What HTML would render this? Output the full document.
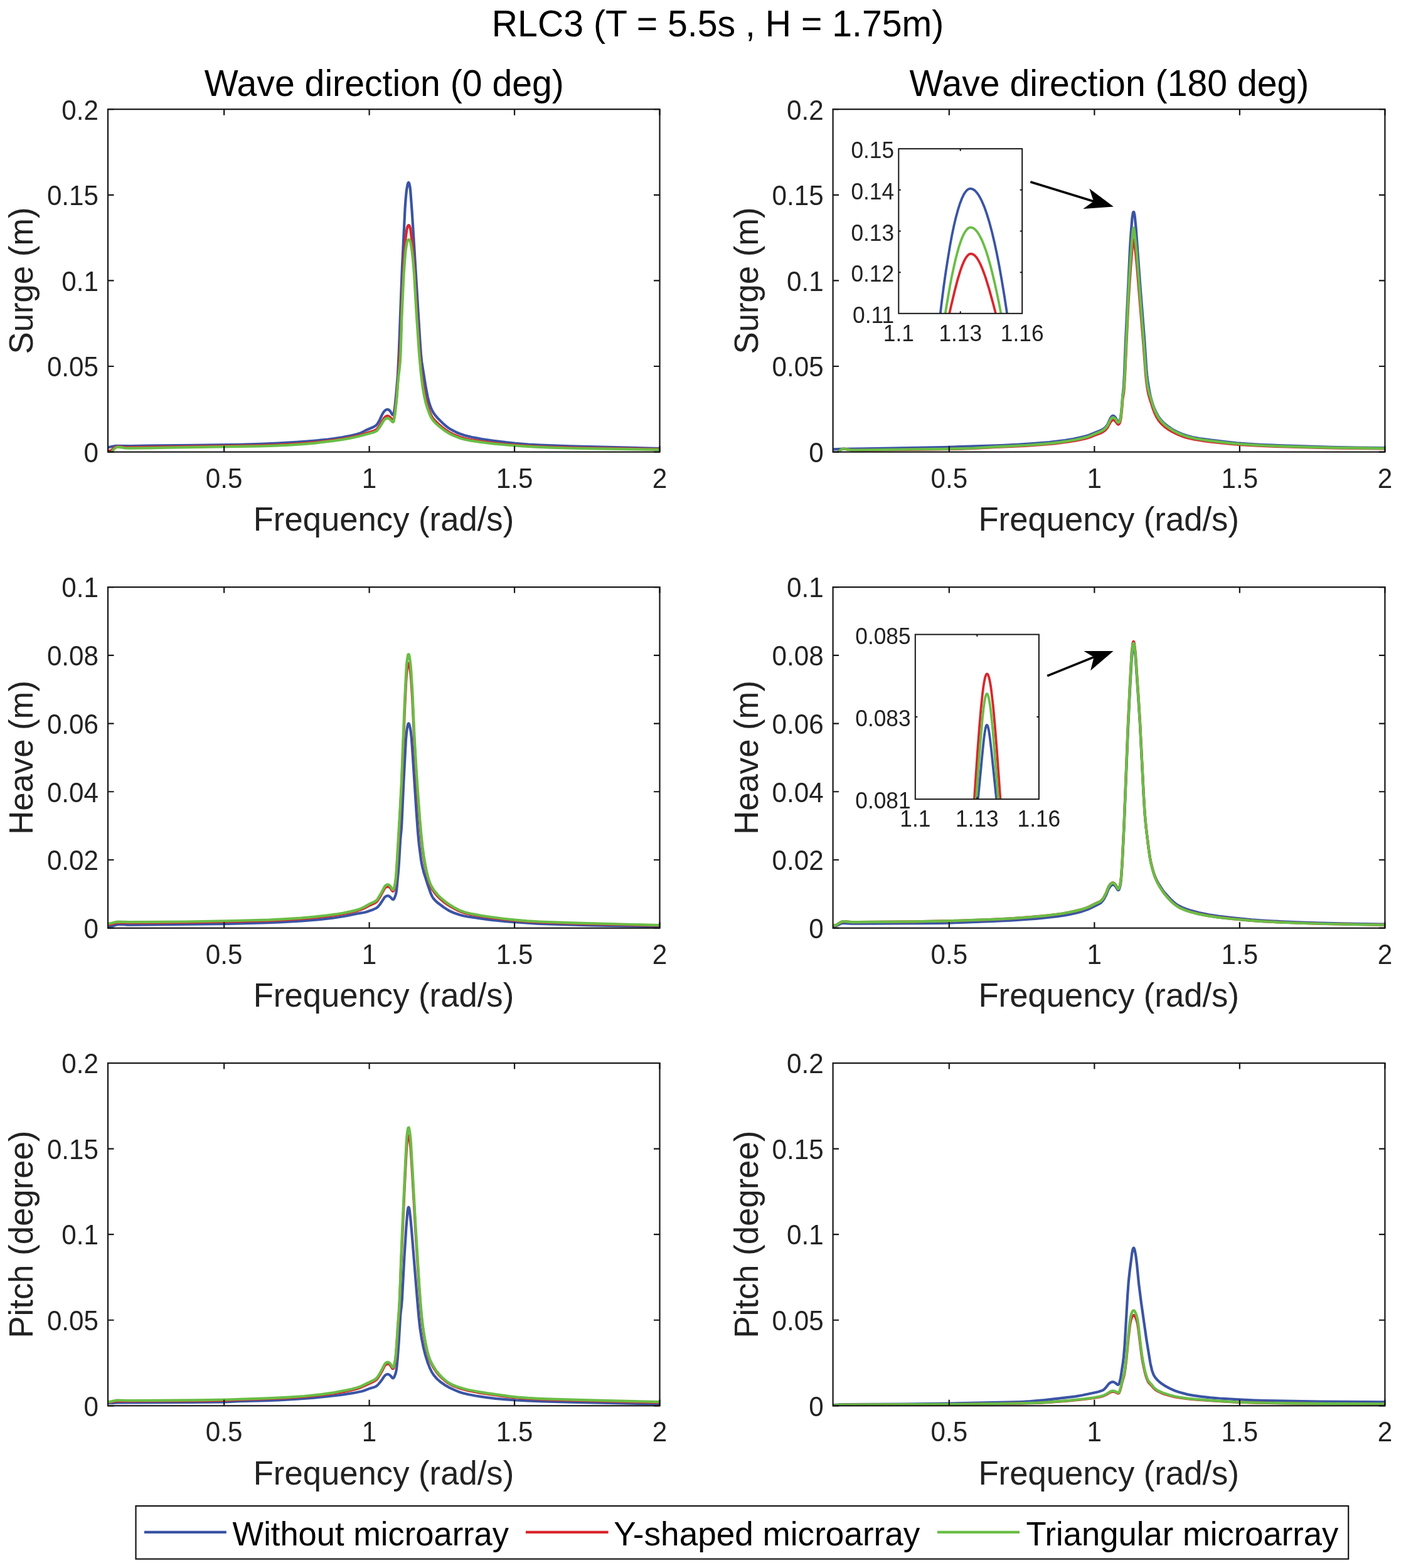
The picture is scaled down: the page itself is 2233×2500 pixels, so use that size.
<!DOCTYPE html>
<html><head><meta charset="utf-8"><title>RLC3 response</title>
<style>html,body{margin:0;padding:0;background:#fff;} svg{display:block;}</style>
</head><body>
<svg xmlns="http://www.w3.org/2000/svg" width="2233" height="2500" viewBox="0 0 2233 2500" font-family="'Liberation Sans', Arial, Helvetica, sans-serif">
<rect x="0" y="0" width="2233" height="2500" fill="#ffffff"/>
<text transform="translate(1144.00,57.70) scale(1.0,1.025)" font-size="57.2" text-anchor="middle" fill="#000">RLC3 (T = 5.5s , H = 1.75m)</text>
<clipPath id="clipTL"><rect x="172.00" y="174.20" width="879.50" height="546.40"/></clipPath>
<path d="M172.6,713.3 L181.7,711.3 L185.3,710.9 L208.1,711.0 L232.1,710.6 L308.5,709.9 L381.3,708.9 L415.3,707.9 L443.3,706.7 L472.4,704.9 L499.5,702.8 L522.6,700.5 L533.3,699.1 L544.8,697.3 L559.3,694.6 L567.9,692.6 L574.4,690.6 L583.2,686.0 L595.4,680.8 L599.1,678.5 L601.5,675.9 L604.4,671.1 L608.6,662.0 L610.9,657.8 L613.1,655.0 L614.3,654.0 L615.7,653.3 L616.8,652.9 L617.9,652.9 L619.0,653.1 L619.9,653.7 L621.1,654.7 L622.4,656.2 L625.1,660.9 L626.1,661.6 L626.7,661.4 L627.3,660.3 L627.9,658.1 L629.4,648.6 L631.6,626.3 L634.0,597.6 L635.7,564.1 L640.7,432.6 L645.6,331.5 L646.8,315.1 L648.0,303.2 L649.7,293.8 L650.5,291.7 L651.1,291.0 L651.7,291.3 L652.2,292.4 L653.3,297.0 L654.0,302.2 L654.7,311.0 L656.7,338.1 L660.3,395.2 L669.3,541.7 L670.8,563.2 L672.2,576.8 L678.7,617.5 L681.6,632.4 L683.9,641.7 L686.7,650.0 L689.5,655.8 L691.4,658.9 L693.5,661.8 L698.7,667.8 L707.0,675.9 L710.9,679.3 L714.4,682.0 L718.1,684.4 L722.7,686.9 L727.3,689.2 L732.1,691.2 L740.8,694.2 L752.1,697.0 L768.2,700.0 L785.2,702.5 L806.2,705.2 L821.3,706.8 L842.5,708.5 L861.6,709.6 L908.4,711.3 L1050.9,715.0" fill="none" stroke="#3a54a4" stroke-width="4.2" stroke-linejoin="round" clip-path="url(#clipTL)"/>
<path d="M172.4,717.9 L174.0,719.0 L175.0,719.2 L176.0,718.9 L177.6,717.9 L180.9,715.0 L182.8,713.6 L185.4,712.5 L188.1,712.1 L192.1,712.3 L200.0,713.3 L208.8,713.3 L294.0,712.2 L410.0,710.4 L436.4,709.6 L460.7,708.4 L485.9,706.7 L508.6,704.6 L524.9,702.7 L535.6,701.3 L548.6,699.2 L562.0,696.7 L573.7,694.0 L582.7,690.9 L595.8,687.0 L599.3,685.2 L600.6,684.3 L602.0,682.8 L604.8,679.0 L609.1,671.3 L612.1,666.6 L614.0,664.6 L615.3,663.8 L616.4,663.4 L618.3,663.2 L620.0,663.9 L622.1,665.7 L625.3,669.6 L626.1,670.0 L626.8,669.9 L627.3,669.2 L627.8,667.8 L629.0,661.1 L631.5,639.7 L632.7,626.1 L637.6,562.3 L638.5,545.1 L640.4,490.4 L642.0,452.8 L643.7,418.9 L645.7,388.9 L646.9,376.2 L648.4,365.9 L649.0,363.2 L649.8,360.9 L650.5,359.7 L651.4,359.2 L652.3,359.7 L652.9,361.0 L653.7,363.2 L654.4,366.3 L656.2,381.0 L657.7,395.8 L660.1,426.9 L665.0,507.9 L668.3,557.0 L670.8,586.1 L672.1,597.6 L673.5,607.9 L676.2,624.1 L678.3,634.7 L681.3,646.3 L684.2,655.0 L687.0,661.7 L689.8,666.5 L693.6,671.1 L698.8,676.1 L707.4,683.3 L711.3,686.1 L715.0,688.5 L718.8,690.7 L723.8,693.1 L733.1,696.8 L740.8,699.1 L750.9,701.2 L769.1,704.0 L785.4,706.1 L806.1,708.3 L825.6,709.9 L850.0,711.5 L871.5,712.5 L923.9,714.0 L1051.0,716.3" fill="none" stroke="#d9272d" stroke-width="4.2" stroke-linejoin="round" clip-path="url(#clipTL)"/>
<path d="M172.3,720.1 L173.2,721.6 L174.2,722.5 L175.0,722.7 L176.0,722.5 L177.7,721.0 L180.8,716.9 L182.8,715.0 L185.5,713.3 L186.6,713.0 L188.2,712.8 L192.1,713.1 L199.6,714.5 L206.8,714.6 L244.8,714.1 L413.9,711.3 L437.1,710.7 L459.5,709.7 L483.0,708.1 L503.0,706.3 L531.6,702.9 L543.4,701.2 L555.6,699.1 L564.7,697.3 L572.5,695.5 L595.6,689.2 L599.3,687.6 L600.6,686.7 L602.0,685.3 L605.2,681.2 L609.3,674.4 L612.3,669.7 L614.3,667.8 L616.4,666.8 L618.3,666.7 L619.7,667.2 L621.9,668.8 L625.3,672.5 L626.1,672.9 L626.8,672.7 L627.5,671.7 L628.1,669.0 L629.4,661.1 L630.4,653.2 L632.4,634.5 L634.4,607.8 L637.4,581.2 L638.0,574.4 L638.8,556.8 L640.4,505.6 L642.1,467.3 L643.7,435.3 L645.4,411.8 L646.6,399.4 L648.3,388.0 L649.0,385.3 L649.8,383.4 L650.6,382.3 L651.6,381.8 L652.5,382.4 L653.3,383.6 L654.0,385.5 L654.7,388.2 L656.6,400.4 L658.2,414.7 L660.2,439.1 L663.6,498.2 L668.1,564.4 L670.7,593.1 L672.6,609.0 L674.0,619.3 L676.3,632.3 L678.4,641.6 L681.4,651.6 L684.6,660.2 L687.3,666.0 L690.2,670.3 L693.6,674.2 L699.0,679.0 L707.8,685.9 L715.2,690.7 L719.1,692.8 L724.1,695.1 L733.5,698.7 L740.8,700.8 L750.6,702.7 L770.0,705.5 L785.9,707.4 L808.2,709.5 L833.7,711.4 L854.9,712.7 L877.6,713.7 L905.6,714.5 L937.6,715.2 L1050.9,716.9" fill="none" stroke="#6abd46" stroke-width="4.2" stroke-linejoin="round" clip-path="url(#clipTL)"/>
<rect x="172.00" y="174.20" width="879.50" height="546.40" fill="none" stroke="#161616" stroke-width="2.2"/>
<text transform="translate(357.16,777.70) scale(1.0,1.06)" font-size="42.2" text-anchor="middle" fill="#222222">0.5</text>
<text transform="translate(588.61,777.70) scale(1.0,1.06)" font-size="42.2" text-anchor="middle" fill="#222222">1</text>
<text transform="translate(820.05,777.70) scale(1.0,1.06)" font-size="42.2" text-anchor="middle" fill="#222222">1.5</text>
<text transform="translate(1051.50,777.70) scale(1.0,1.06)" font-size="42.2" text-anchor="middle" fill="#222222">2</text>
<text transform="translate(157.00,736.90) scale(1.0,1.06)" font-size="42.2" text-anchor="end" fill="#222222">0</text>
<text transform="translate(157.00,600.30) scale(1.0,1.06)" font-size="42.2" text-anchor="end" fill="#222222">0.05</text>
<text transform="translate(157.00,463.70) scale(1.0,1.06)" font-size="42.2" text-anchor="end" fill="#222222">0.1</text>
<text transform="translate(157.00,327.10) scale(1.0,1.06)" font-size="42.2" text-anchor="end" fill="#222222">0.15</text>
<text transform="translate(157.00,190.50) scale(1.0,1.06)" font-size="42.2" text-anchor="end" fill="#222222">0.2</text>
<path d="M357.16,720.60 v-9.5 M357.16,174.20 v9.5 M588.61,720.60 v-9.5 M588.61,174.20 v9.5 M820.05,720.60 v-9.5 M820.05,174.20 v9.5 M1051.50,720.60 v-9.5 M1051.50,174.20 v9.5 M172.00,720.60 h9.5 M1051.50,720.60 h-9.5 M172.00,584.00 h9.5 M1051.50,584.00 h-9.5 M172.00,447.40 h9.5 M1051.50,447.40 h-9.5 M172.00,310.80 h9.5 M1051.50,310.80 h-9.5 M172.00,174.20 h9.5 M1051.50,174.20 h-9.5" stroke="#161616" stroke-width="2.2" fill="none"/>
<text transform="translate(611.45,846.00) scale(1.0,1.025)" font-size="52.66" text-anchor="middle" fill="#222222">Frequency (rad/s)</text>
<text transform="translate(52.20,447.40) rotate(-90) scale(1.0,1.025)" font-size="52.66" text-anchor="middle" fill="#222222">Surge (m)</text>
<text transform="translate(612.25,152.50) scale(1.0,1.025)" font-size="57.2" text-anchor="middle" fill="#000">Wave direction (0 deg)</text>
<clipPath id="clipTR"><rect x="1327.60" y="174.20" width="879.80" height="546.40"/></clipPath>
<path d="M1328.2,716.3 L1340.0,715.9 L1378.8,715.4 L1504.0,713.0 L1563.1,711.2 L1595.1,710.0 L1624.7,708.5 L1649.8,706.9 L1672.1,705.0 L1686.5,703.4 L1697.2,702.0 L1711.0,699.7 L1722.3,697.4 L1729.7,695.6 L1735.1,694.0 L1751.8,687.3 L1755.8,685.5 L1758.6,683.9 L1760.8,682.3 L1762.8,680.3 L1764.5,678.1 L1765.7,676.0 L1768.7,669.1 L1770.2,666.2 L1771.8,664.0 L1773.2,663.0 L1773.9,662.9 L1774.9,663.1 L1775.8,663.7 L1777.0,664.7 L1778.4,666.6 L1780.7,670.8 L1781.6,671.8 L1782.4,672.2 L1783.4,671.8 L1784.5,670.3 L1785.3,668.1 L1786.1,665.0 L1786.7,661.0 L1788.0,647.9 L1789.3,630.4 L1790.5,620.8 L1790.9,615.6 L1791.9,598.1 L1793.9,547.3 L1796.1,499.8 L1801.0,396.7 L1802.6,371.5 L1804.5,347.6 L1805.7,340.1 L1806.2,338.4 L1806.8,337.9 L1807.3,338.2 L1807.7,339.4 L1808.7,344.5 L1810.4,361.6 L1817.3,455.4 L1824.1,541.1 L1827.3,589.0 L1828.2,598.5 L1829.2,606.9 L1831.6,621.1 L1833.6,631.3 L1836.4,641.3 L1839.2,649.6 L1842.6,657.3 L1846.3,664.0 L1850.3,669.4 L1855.0,674.4 L1858.3,677.2 L1862.8,680.6 L1867.4,683.7 L1871.9,686.3 L1876.5,688.7 L1881.7,691.0 L1887.2,693.1 L1892.6,694.9 L1900.7,697.0 L1911.7,699.0 L1930.7,701.7 L1953.4,704.4 L1971.7,706.3 L1992.0,707.8 L2012.0,709.0 L2037.5,710.1 L2084.3,711.7 L2122.3,712.8 L2162.7,713.5 L2206.8,714.0" fill="none" stroke="#3a54a4" stroke-width="4.2" stroke-linejoin="round" clip-path="url(#clipTR)"/>
<path d="M1328.1,721.4 L1329.2,722.3 L1330.5,722.9 L1331.9,723.1 L1333.0,722.8 L1334.6,721.8 L1338.8,718.1 L1340.4,716.9 L1342.5,715.9 L1344.4,715.5 L1346.3,715.7 L1353.0,717.0 L1357.0,717.6 L1376.1,717.8 L1506.1,716.2 L1532.5,715.7 L1552.1,715.0 L1587.7,713.0 L1634.0,710.8 L1658.0,709.2 L1679.9,707.3 L1691.4,706.0 L1702.5,704.5 L1715.1,702.4 L1724.9,700.4 L1731.1,698.9 L1735.4,697.7 L1745.4,693.7 L1752.9,691.0 L1755.9,689.7 L1758.6,688.1 L1760.9,686.5 L1762.9,684.5 L1765.6,681.1 L1768.7,675.1 L1770.4,672.4 L1771.9,670.5 L1773.4,669.6 L1774.8,669.7 L1776.5,670.5 L1778.5,672.4 L1781.2,676.1 L1782.3,676.7 L1783.1,676.4 L1784.1,675.4 L1785.1,673.3 L1785.9,670.3 L1786.7,666.3 L1788.0,654.0 L1789.4,636.1 L1791.1,626.2 L1791.8,619.8 L1793.2,595.1 L1798.1,489.6 L1799.8,460.1 L1801.9,429.3 L1804.4,397.8 L1806.0,383.9 L1806.4,381.9 L1806.8,381.4 L1807.3,382.4 L1807.8,385.5 L1810.2,404.5 L1811.8,420.4 L1822.5,550.0 L1826.0,597.1 L1827.1,607.8 L1828.7,619.3 L1830.1,626.8 L1831.8,633.3 L1837.5,651.2 L1840.5,659.1 L1843.7,665.5 L1846.9,670.6 L1850.7,675.2 L1855.3,679.6 L1858.8,682.3 L1863.5,685.4 L1867.9,688.1 L1872.5,690.5 L1877.3,692.7 L1882.8,694.9 L1888.5,696.9 L1893.9,698.5 L1904.0,700.7 L1917.0,702.8 L1931.3,704.6 L1957.6,707.3 L1973.9,708.8 L1995.1,710.2 L2015.8,711.2 L2043.0,712.2 L2086.6,713.5 L2124.6,714.4 L2164.6,714.9 L2206.9,715.3" fill="none" stroke="#d9272d" stroke-width="4.2" stroke-linejoin="round" clip-path="url(#clipTR)"/>
<path d="M1328.1,721.4 L1329.2,722.3 L1330.5,722.9 L1331.9,723.1 L1333.0,722.8 L1334.6,721.8 L1338.8,718.1 L1340.4,716.9 L1342.5,715.9 L1344.4,715.5 L1346.3,715.7 L1355.4,717.4 L1361.3,717.7 L1445.3,716.5 L1506.1,715.8 L1534.1,715.2 L1552.5,714.5 L1587.6,712.3 L1634.0,710.0 L1657.1,708.3 L1678.6,706.3 L1690.5,704.9 L1701.6,703.3 L1714.6,701.0 L1724.4,698.9 L1730.6,697.3 L1735.2,695.9 L1745.1,691.7 L1752.6,688.8 L1755.5,687.4 L1758.2,685.8 L1760.7,683.8 L1762.7,681.8 L1764.2,680.0 L1765.5,678.0 L1768.8,671.1 L1770.2,668.7 L1771.6,666.8 L1773.1,665.8 L1773.8,665.6 L1774.8,665.8 L1776.4,666.7 L1778.4,668.6 L1781.3,673.2 L1782.4,673.7 L1783.2,673.5 L1784.3,672.1 L1785.2,669.9 L1786.0,666.9 L1786.7,662.5 L1788.0,649.8 L1789.4,630.6 L1791.1,620.8 L1791.7,614.0 L1793.2,588.5 L1798.1,477.4 L1799.8,446.2 L1801.9,414.3 L1804.4,381.2 L1805.9,366.5 L1806.3,364.3 L1806.6,363.6 L1806.8,363.5 L1807.3,364.5 L1807.8,367.5 L1810.2,387.7 L1811.8,404.1 L1822.5,540.0 L1826.0,589.5 L1827.1,600.7 L1828.7,612.6 L1830.0,620.0 L1831.8,627.0 L1837.6,646.2 L1840.6,654.4 L1843.9,661.3 L1847.4,667.1 L1851.4,672.1 L1855.9,676.6 L1859.6,679.6 L1864.2,682.9 L1868.6,685.6 L1873.1,688.2 L1877.8,690.5 L1883.7,693.0 L1888.9,694.9 L1894.3,696.6 L1904.4,699.0 L1917.8,701.3 L1931.7,703.2 L1959.1,706.3 L1975.4,707.9 L1997.4,709.4 L2018.5,710.5 L2046.5,711.6 L2088.1,712.9 L2126.1,713.8 L2166.1,714.4 L2206.9,714.8" fill="none" stroke="#6abd46" stroke-width="4.2" stroke-linejoin="round" clip-path="url(#clipTR)"/>
<rect x="1327.60" y="174.20" width="879.80" height="546.40" fill="none" stroke="#161616" stroke-width="2.2"/>
<text transform="translate(1512.82,777.70) scale(1.0,1.06)" font-size="42.2" text-anchor="middle" fill="#222222">0.5</text>
<text transform="translate(1744.35,777.70) scale(1.0,1.06)" font-size="42.2" text-anchor="middle" fill="#222222">1</text>
<text transform="translate(1975.87,777.70) scale(1.0,1.06)" font-size="42.2" text-anchor="middle" fill="#222222">1.5</text>
<text transform="translate(2207.40,777.70) scale(1.0,1.06)" font-size="42.2" text-anchor="middle" fill="#222222">2</text>
<text transform="translate(1312.60,736.90) scale(1.0,1.06)" font-size="42.2" text-anchor="end" fill="#222222">0</text>
<text transform="translate(1312.60,600.30) scale(1.0,1.06)" font-size="42.2" text-anchor="end" fill="#222222">0.05</text>
<text transform="translate(1312.60,463.70) scale(1.0,1.06)" font-size="42.2" text-anchor="end" fill="#222222">0.1</text>
<text transform="translate(1312.60,327.10) scale(1.0,1.06)" font-size="42.2" text-anchor="end" fill="#222222">0.15</text>
<text transform="translate(1312.60,190.50) scale(1.0,1.06)" font-size="42.2" text-anchor="end" fill="#222222">0.2</text>
<path d="M1512.82,720.60 v-9.5 M1512.82,174.20 v9.5 M1744.35,720.60 v-9.5 M1744.35,174.20 v9.5 M1975.87,720.60 v-9.5 M1975.87,174.20 v9.5 M2207.40,720.60 v-9.5 M2207.40,174.20 v9.5 M1327.60,720.60 h9.5 M2207.40,720.60 h-9.5 M1327.60,584.00 h9.5 M2207.40,584.00 h-9.5 M1327.60,447.40 h9.5 M2207.40,447.40 h-9.5 M1327.60,310.80 h9.5 M2207.40,310.80 h-9.5 M1327.60,174.20 h9.5 M2207.40,174.20 h-9.5" stroke="#161616" stroke-width="2.2" fill="none"/>
<text transform="translate(1767.20,846.00) scale(1.0,1.025)" font-size="52.66" text-anchor="middle" fill="#222222">Frequency (rad/s)</text>
<text transform="translate(1207.80,447.40) rotate(-90) scale(1.0,1.025)" font-size="52.66" text-anchor="middle" fill="#222222">Surge (m)</text>
<text transform="translate(1768.00,152.50) scale(1.0,1.025)" font-size="57.2" text-anchor="middle" fill="#000">Wave direction (180 deg)</text>
<clipPath id="clipBL"><rect x="172.00" y="936.10" width="879.50" height="543.60"/></clipPath>
<path d="M172.6,1477.0 L176.4,1476.7 L179.6,1476.3 L181.5,1475.8 L185.6,1474.4 L188.7,1473.9 L195.5,1474.0 L203.5,1474.6 L208.7,1474.7 L322.7,1473.4 L363.1,1472.8 L418.7,1471.3 L445.5,1470.3 L480.6,1468.3 L508.5,1466.1 L530.4,1463.7 L550.9,1460.5 L569.3,1456.6 L581.2,1454.7 L584.6,1453.7 L594.8,1450.2 L599.2,1448.2 L600.8,1447.1 L602.3,1445.8 L605.9,1441.5 L612.9,1430.8 L614.6,1429.3 L616.7,1428.3 L618.2,1428.2 L620.0,1428.7 L622.2,1430.4 L625.4,1433.8 L626.6,1434.2 L627.3,1434.0 L628.3,1432.6 L630.0,1428.5 L630.9,1425.5 L631.6,1422.4 L632.5,1415.2 L634.9,1389.8 L635.9,1376.6 L638.1,1339.1 L639.8,1321.5 L640.4,1312.4 L643.4,1245.6 L646.9,1180.1 L647.8,1169.4 L648.9,1161.0 L650.1,1155.2 L650.6,1153.9 L651.3,1153.4 L651.7,1153.8 L652.3,1155.0 L653.7,1160.3 L654.9,1167.4 L655.7,1175.0 L657.0,1192.1 L663.6,1293.5 L665.9,1325.4 L667.8,1345.7 L671.2,1371.9 L673.2,1382.1 L675.8,1392.2 L682.2,1412.0 L686.9,1425.2 L688.9,1429.5 L690.8,1432.5 L694.0,1436.1 L698.2,1439.8 L707.5,1446.8 L714.9,1451.5 L718.5,1453.3 L722.9,1455.2 L732.3,1458.5 L738.9,1460.2 L746.7,1461.7 L779.6,1466.3 L789.1,1467.5 L809.1,1469.3 L838.2,1471.5 L856.5,1472.6 L876.9,1473.5 L909.3,1474.5 L944.1,1475.4 L996.5,1476.4 L1050.9,1477.3" fill="none" stroke="#3a54a4" stroke-width="4.2" stroke-linejoin="round" clip-path="url(#clipBL)"/>
<path d="M172.6,1473.9 L177.2,1473.4 L184.9,1471.3 L188.4,1470.9 L206.8,1471.5 L298.0,1470.7 L364.0,1469.5 L428.8,1467.8 L452.7,1466.6 L479.9,1464.8 L500.2,1463.1 L520.5,1460.9 L534.0,1459.2 L546.6,1457.1 L558.0,1454.9 L567.7,1452.5 L573.8,1450.7 L578.3,1449.0 L582.3,1447.1 L590.1,1443.0 L597.0,1440.0 L599.7,1438.3 L601.8,1436.0 L606.3,1428.8 L612.7,1416.9 L614.5,1414.8 L616.5,1413.6 L618.4,1413.4 L619.4,1413.7 L620.5,1414.2 L622.4,1416.1 L625.2,1420.3 L626.1,1421.0 L626.8,1420.8 L627.7,1419.4 L628.5,1416.8 L629.5,1412.5 L630.3,1407.8 L631.3,1399.0 L632.6,1381.1 L635.5,1335.2 L640.0,1254.1 L645.2,1126.6 L647.1,1087.0 L648.0,1074.7 L648.8,1067.1 L650.0,1059.6 L650.6,1058.0 L651.2,1057.4 L651.7,1057.8 L652.2,1059.0 L653.4,1065.2 L654.4,1073.1 L655.4,1084.3 L657.3,1114.6 L660.5,1185.0 L664.2,1246.0 L666.7,1282.4 L668.8,1309.1 L671.1,1333.8 L673.2,1353.3 L675.2,1367.1 L677.5,1380.1 L680.6,1394.6 L683.3,1404.2 L686.0,1411.7 L689.0,1417.8 L692.8,1423.5 L697.4,1429.0 L701.1,1432.6 L705.4,1436.3 L709.7,1439.8 L714.0,1442.8 L718.4,1445.5 L724.7,1449.0 L729.7,1451.6 L734.4,1453.6 L741.3,1455.9 L750.6,1458.0 L769.2,1461.2 L785.0,1463.5 L805.6,1466.0 L822.0,1467.7 L843.9,1469.3 L865.1,1470.5 L916.2,1472.3 L1051.0,1475.7" fill="none" stroke="#d9272d" stroke-width="4.2" stroke-linejoin="round" clip-path="url(#clipBL)"/>
<path d="M172.6,1472.6 L177.2,1472.0 L184.4,1470.0 L188.0,1469.6 L206.4,1470.2 L296.8,1469.5 L373.6,1468.0 L428.8,1466.6 L452.3,1465.4 L479.9,1463.6 L499.8,1461.8 L520.9,1459.5 L534.8,1457.7 L546.6,1455.8 L558.4,1453.4 L567.7,1451.1 L573.0,1449.4 L576.7,1447.9 L581.4,1445.6 L589.7,1440.8 L597.0,1437.6 L599.7,1435.9 L601.5,1433.9 L606.5,1425.7 L612.9,1413.7 L614.4,1411.9 L616.4,1410.7 L617.5,1410.4 L618.6,1410.4 L619.6,1410.8 L620.6,1411.4 L622.5,1413.4 L625.3,1418.0 L626.2,1418.6 L626.9,1418.3 L627.7,1416.9 L628.6,1413.5 L629.6,1409.2 L630.3,1404.4 L631.2,1396.1 L632.6,1376.1 L637.9,1285.1 L639.9,1247.1 L645.2,1112.8 L647.2,1073.3 L647.9,1060.9 L648.7,1053.7 L650.0,1045.5 L650.5,1043.7 L651.1,1043.1 L651.6,1043.3 L652.1,1044.5 L653.1,1049.5 L654.3,1058.6 L655.3,1069.8 L657.3,1102.5 L660.4,1172.1 L663.6,1228.0 L666.6,1271.1 L668.9,1302.6 L671.3,1329.7 L673.4,1350.0 L675.5,1365.0 L677.8,1378.4 L680.6,1392.1 L683.2,1401.8 L685.8,1408.9 L688.7,1414.6 L692.6,1420.7 L697.2,1426.2 L700.8,1429.9 L705.0,1433.7 L709.3,1437.2 L713.5,1440.3 L718.2,1443.4 L724.7,1447.3 L729.6,1449.9 L734.3,1452.1 L741.1,1454.5 L750.5,1456.8 L767.0,1459.8 L782.0,1462.0 L805.0,1465.0 L820.5,1466.7 L840.1,1468.3 L860.8,1469.5 L911.2,1471.4 L1050.9,1475.1" fill="none" stroke="#6abd46" stroke-width="4.2" stroke-linejoin="round" clip-path="url(#clipBL)"/>
<rect x="172.00" y="936.10" width="879.50" height="543.60" fill="none" stroke="#161616" stroke-width="2.2"/>
<text transform="translate(357.16,1536.80) scale(1.0,1.06)" font-size="42.2" text-anchor="middle" fill="#222222">0.5</text>
<text transform="translate(588.61,1536.80) scale(1.0,1.06)" font-size="42.2" text-anchor="middle" fill="#222222">1</text>
<text transform="translate(820.05,1536.80) scale(1.0,1.06)" font-size="42.2" text-anchor="middle" fill="#222222">1.5</text>
<text transform="translate(1051.50,1536.80) scale(1.0,1.06)" font-size="42.2" text-anchor="middle" fill="#222222">2</text>
<text transform="translate(157.00,1496.00) scale(1.0,1.06)" font-size="42.2" text-anchor="end" fill="#222222">0</text>
<text transform="translate(157.00,1387.28) scale(1.0,1.06)" font-size="42.2" text-anchor="end" fill="#222222">0.02</text>
<text transform="translate(157.00,1278.56) scale(1.0,1.06)" font-size="42.2" text-anchor="end" fill="#222222">0.04</text>
<text transform="translate(157.00,1169.84) scale(1.0,1.06)" font-size="42.2" text-anchor="end" fill="#222222">0.06</text>
<text transform="translate(157.00,1061.12) scale(1.0,1.06)" font-size="42.2" text-anchor="end" fill="#222222">0.08</text>
<text transform="translate(157.00,952.40) scale(1.0,1.06)" font-size="42.2" text-anchor="end" fill="#222222">0.1</text>
<path d="M357.16,1479.70 v-9.5 M357.16,936.10 v9.5 M588.61,1479.70 v-9.5 M588.61,936.10 v9.5 M820.05,1479.70 v-9.5 M820.05,936.10 v9.5 M1051.50,1479.70 v-9.5 M1051.50,936.10 v9.5 M172.00,1479.70 h9.5 M1051.50,1479.70 h-9.5 M172.00,1370.98 h9.5 M1051.50,1370.98 h-9.5 M172.00,1262.26 h9.5 M1051.50,1262.26 h-9.5 M172.00,1153.54 h9.5 M1051.50,1153.54 h-9.5 M172.00,1044.82 h9.5 M1051.50,1044.82 h-9.5 M172.00,936.10 h9.5 M1051.50,936.10 h-9.5" stroke="#161616" stroke-width="2.2" fill="none"/>
<text transform="translate(611.45,1605.10) scale(1.0,1.025)" font-size="52.66" text-anchor="middle" fill="#222222">Frequency (rad/s)</text>
<text transform="translate(52.20,1207.90) rotate(-90) scale(1.0,1.025)" font-size="52.66" text-anchor="middle" fill="#222222">Heave (m)</text>
<clipPath id="clipBR"><rect x="1327.60" y="936.10" width="879.80" height="543.60"/></clipPath>
<path d="M1328.2,1476.4 L1330.8,1476.6 L1332.7,1476.2 L1339.8,1472.8 L1342.1,1472.1 L1344.0,1471.8 L1356.8,1472.6 L1369.2,1472.6 L1465.2,1472.2 L1498.8,1471.8 L1517.6,1471.3 L1581.9,1469.0 L1613.9,1467.4 L1634.7,1466.0 L1653.0,1464.6 L1669.3,1463.0 L1684.8,1461.2 L1695.5,1459.7 L1703.8,1458.2 L1715.1,1455.7 L1724.8,1453.1 L1730.8,1451.1 L1735.3,1449.4 L1752.5,1440.8 L1754.2,1439.8 L1755.7,1438.5 L1758.4,1435.1 L1760.7,1431.3 L1763.0,1427.1 L1766.2,1418.9 L1767.4,1416.4 L1770.0,1412.8 L1771.1,1411.7 L1772.4,1410.9 L1773.4,1410.6 L1774.5,1410.7 L1775.5,1411.1 L1776.5,1411.7 L1777.6,1412.8 L1778.6,1414.0 L1781.3,1418.7 L1782.3,1419.2 L1783.0,1419.0 L1783.9,1417.6 L1784.9,1414.6 L1785.7,1411.0 L1786.4,1406.7 L1787.2,1398.3 L1788.6,1378.4 L1791.4,1322.5 L1797.7,1167.4 L1800.8,1102.3 L1803.8,1048.0 L1805.4,1033.7 L1806.0,1031.0 L1806.4,1030.3 L1806.7,1030.0 L1807.1,1030.3 L1807.5,1031.0 L1808.2,1034.5 L1809.5,1044.8 L1810.2,1052.7 L1816.7,1149.3 L1822.5,1263.6 L1824.2,1291.9 L1825.2,1304.7 L1826.5,1318.2 L1830.3,1350.0 L1832.5,1365.0 L1834.2,1374.5 L1837.1,1386.1 L1840.2,1395.6 L1843.5,1403.3 L1847.8,1411.0 L1853.5,1419.7 L1856.2,1423.2 L1859.1,1426.5 L1867.0,1434.9 L1873.3,1440.5 L1876.3,1442.6 L1879.0,1444.2 L1886.6,1447.8 L1891.1,1449.5 L1896.4,1451.3 L1904.1,1453.4 L1910.7,1455.1 L1926.4,1458.3 L1943.0,1460.8 L1964.8,1463.4 L1994.7,1466.3 L2015.4,1467.8 L2043.0,1469.3 L2080.2,1470.9 L2114.1,1471.9 L2157.7,1472.9 L2206.9,1473.6" fill="none" stroke="#3a54a4" stroke-width="4.2" stroke-linejoin="round" clip-path="url(#clipBR)"/>
<path d="M1328.2,1475.3 L1330.7,1475.5 L1332.6,1475.1 L1333.9,1474.4 L1337.1,1472.0 L1339.5,1470.6 L1341.7,1469.6 L1344.0,1469.2 L1346.0,1469.2 L1356.7,1470.1 L1367.5,1470.2 L1457.9,1469.4 L1518.3,1468.2 L1582.7,1465.8 L1612.2,1464.3 L1632.6,1462.9 L1650.9,1461.4 L1667.2,1459.8 L1682.7,1458.0 L1693.4,1456.5 L1704.1,1454.5 L1715.4,1452.1 L1724.7,1449.7 L1730.8,1447.7 L1735.3,1446.0 L1745.3,1441.0 L1752.6,1437.7 L1754.2,1436.7 L1755.7,1435.4 L1758.2,1432.3 L1760.5,1428.5 L1762.9,1423.9 L1766.2,1415.3 L1767.4,1412.8 L1769.8,1409.6 L1770.9,1408.5 L1772.2,1407.7 L1773.3,1407.4 L1774.3,1407.5 L1775.4,1408.0 L1776.3,1408.6 L1778.4,1411.0 L1781.4,1416.4 L1782.3,1417.0 L1783.0,1416.8 L1783.9,1415.3 L1784.9,1412.3 L1785.6,1408.8 L1786.4,1404.5 L1787.2,1396.1 L1788.5,1376.6 L1791.3,1320.2 L1797.6,1161.2 L1800.7,1096.0 L1803.7,1040.5 L1805.4,1026.2 L1806.0,1023.7 L1806.4,1023.0 L1806.7,1022.9 L1807.0,1023.1 L1807.4,1023.8 L1808.0,1026.4 L1809.8,1041.5 L1815.0,1118.5 L1817.1,1153.3 L1822.6,1262.7 L1824.5,1294.7 L1826.7,1319.4 L1830.5,1350.7 L1832.6,1365.8 L1834.4,1375.6 L1837.3,1387.3 L1840.4,1397.2 L1844.0,1405.6 L1848.4,1413.7 L1853.8,1422.1 L1856.5,1425.6 L1859.3,1429.0 L1867.0,1437.2 L1870.5,1440.4 L1873.6,1442.9 L1876.5,1445.0 L1879.3,1446.6 L1883.2,1448.6 L1887.3,1450.4 L1891.7,1452.1 L1897.1,1453.8 L1909.1,1456.9 L1924.4,1459.9 L1941.0,1462.4 L1962.8,1464.9 L1992.3,1467.6 L2013.1,1469.1 L2041.0,1470.5 L2078.2,1472.0 L2112.6,1473.0 L2156.2,1473.9 L2206.9,1474.6" fill="none" stroke="#d9272d" stroke-width="4.2" stroke-linejoin="round" clip-path="url(#clipBR)"/>
<path d="M1328.2,1475.3 L1330.7,1475.5 L1332.6,1475.1 L1333.9,1474.4 L1337.1,1472.0 L1339.5,1470.6 L1341.7,1469.6 L1344.0,1469.2 L1346.0,1469.2 L1356.7,1470.1 L1367.5,1470.2 L1457.5,1469.4 L1517.9,1468.2 L1582.7,1465.8 L1611.8,1464.3 L1632.2,1462.9 L1650.5,1461.5 L1666.8,1459.9 L1682.3,1458.0 L1693.0,1456.5 L1704.1,1454.5 L1715.4,1452.1 L1724.7,1449.7 L1730.8,1447.8 L1735.3,1446.1 L1745.3,1441.1 L1752.6,1437.8 L1754.3,1436.8 L1755.8,1435.5 L1758.3,1432.4 L1760.5,1428.6 L1762.9,1424.0 L1766.3,1415.4 L1767.5,1412.9 L1769.9,1409.8 L1771.1,1408.7 L1772.4,1408.0 L1773.4,1407.7 L1774.5,1407.9 L1776.4,1409.1 L1778.5,1411.4 L1781.3,1416.6 L1782.2,1417.3 L1782.6,1417.3 L1783.1,1417.0 L1783.9,1415.5 L1784.9,1412.4 L1786.4,1404.6 L1787.2,1396.2 L1788.5,1376.7 L1791.3,1320.7 L1797.6,1163.3 L1800.6,1099.7 L1803.7,1043.0 L1805.4,1029.1 L1806.0,1026.5 L1806.4,1025.8 L1806.7,1025.6 L1807.0,1025.7 L1807.3,1026.4 L1807.9,1029.0 L1809.8,1044.1 L1815.0,1119.5 L1817.1,1155.0 L1822.6,1264.1 L1824.5,1296.0 L1826.8,1320.7 L1830.6,1352.1 L1832.6,1366.3 L1834.4,1376.2 L1837.3,1387.8 L1840.5,1397.7 L1844.1,1406.2 L1848.5,1414.2 L1854.0,1422.6 L1856.6,1426.1 L1859.5,1429.5 L1867.2,1437.6 L1870.4,1440.5 L1873.5,1443.1 L1876.5,1445.1 L1879.2,1446.8 L1883.2,1448.7 L1887.2,1450.5 L1892.1,1452.3 L1897.4,1454.0 L1909.4,1457.1 L1924.7,1460.1 L1941.3,1462.6 L1963.2,1465.0 L1992.7,1467.7 L2013.4,1469.1 L2041.4,1470.6 L2078.6,1472.0 L2112.9,1473.0 L2156.5,1473.9 L2206.9,1474.6" fill="none" stroke="#6abd46" stroke-width="4.2" stroke-linejoin="round" clip-path="url(#clipBR)"/>
<rect x="1327.60" y="936.10" width="879.80" height="543.60" fill="none" stroke="#161616" stroke-width="2.2"/>
<text transform="translate(1512.82,1536.80) scale(1.0,1.06)" font-size="42.2" text-anchor="middle" fill="#222222">0.5</text>
<text transform="translate(1744.35,1536.80) scale(1.0,1.06)" font-size="42.2" text-anchor="middle" fill="#222222">1</text>
<text transform="translate(1975.87,1536.80) scale(1.0,1.06)" font-size="42.2" text-anchor="middle" fill="#222222">1.5</text>
<text transform="translate(2207.40,1536.80) scale(1.0,1.06)" font-size="42.2" text-anchor="middle" fill="#222222">2</text>
<text transform="translate(1312.60,1496.00) scale(1.0,1.06)" font-size="42.2" text-anchor="end" fill="#222222">0</text>
<text transform="translate(1312.60,1387.28) scale(1.0,1.06)" font-size="42.2" text-anchor="end" fill="#222222">0.02</text>
<text transform="translate(1312.60,1278.56) scale(1.0,1.06)" font-size="42.2" text-anchor="end" fill="#222222">0.04</text>
<text transform="translate(1312.60,1169.84) scale(1.0,1.06)" font-size="42.2" text-anchor="end" fill="#222222">0.06</text>
<text transform="translate(1312.60,1061.12) scale(1.0,1.06)" font-size="42.2" text-anchor="end" fill="#222222">0.08</text>
<text transform="translate(1312.60,952.40) scale(1.0,1.06)" font-size="42.2" text-anchor="end" fill="#222222">0.1</text>
<path d="M1512.82,1479.70 v-9.5 M1512.82,936.10 v9.5 M1744.35,1479.70 v-9.5 M1744.35,936.10 v9.5 M1975.87,1479.70 v-9.5 M1975.87,936.10 v9.5 M2207.40,1479.70 v-9.5 M2207.40,936.10 v9.5 M1327.60,1479.70 h9.5 M2207.40,1479.70 h-9.5 M1327.60,1370.98 h9.5 M2207.40,1370.98 h-9.5 M1327.60,1262.26 h9.5 M2207.40,1262.26 h-9.5 M1327.60,1153.54 h9.5 M2207.40,1153.54 h-9.5 M1327.60,1044.82 h9.5 M2207.40,1044.82 h-9.5 M1327.60,936.10 h9.5 M2207.40,936.10 h-9.5" stroke="#161616" stroke-width="2.2" fill="none"/>
<text transform="translate(1767.20,1605.10) scale(1.0,1.025)" font-size="52.66" text-anchor="middle" fill="#222222">Frequency (rad/s)</text>
<text transform="translate(1207.80,1207.90) rotate(-90) scale(1.0,1.025)" font-size="52.66" text-anchor="middle" fill="#222222">Heave (m)</text>
<clipPath id="clipPL"><rect x="172.00" y="1695.00" width="879.50" height="546.30"/></clipPath>
<path d="M172.6,2237.0 L180.0,2237.0 L186.4,2236.4 L190.8,2236.3 L302.8,2235.9 L357.6,2235.3 L381.1,2234.2 L423.1,2233.1 L443.9,2232.3 L476.6,2230.4 L500.6,2228.6 L526.5,2226.0 L544.3,2223.9 L562.1,2221.2 L577.0,2218.2 L581.6,2216.8 L590.2,2213.4 L597.1,2211.4 L598.9,2210.6 L600.2,2209.8 L602.3,2208.0 L605.9,2203.7 L609.2,2199.2 L612.8,2193.9 L614.2,2192.5 L615.9,2191.5 L617.0,2191.1 L618.1,2191.1 L619.9,2191.6 L622.1,2193.2 L625.4,2197.0 L626.2,2197.3 L627.0,2197.1 L628.1,2195.8 L629.4,2192.9 L630.5,2189.9 L631.3,2186.8 L632.3,2180.5 L633.8,2164.6 L635.6,2141.1 L638.1,2098.7 L638.7,2092.4 L640.1,2080.9 L640.9,2070.5 L644.4,2005.0 L647.5,1955.9 L649.6,1930.8 L650.3,1926.5 L650.8,1925.2 L651.2,1924.8 L651.6,1925.1 L652.0,1925.9 L652.8,1929.7 L654.7,1946.8 L656.7,1969.5 L664.4,2064.4 L667.5,2100.3 L669.3,2116.6 L672.0,2134.0 L674.9,2148.5 L677.8,2160.1 L681.5,2172.0 L685.3,2181.7 L688.5,2188.1 L692.3,2193.7 L696.5,2198.5 L701.9,2203.2 L709.1,2208.3 L717.1,2212.8 L727.7,2217.6 L732.5,2219.5 L737.1,2221.0 L746.4,2223.3 L758.2,2225.5 L774.0,2227.9 L789.9,2229.8 L807.4,2231.4 L822.6,2232.5 L841.4,2233.4 L865.8,2234.4 L911.3,2235.6 L1051.0,2238.6" fill="none" stroke="#3a54a4" stroke-width="4.2" stroke-linejoin="round" clip-path="url(#clipPL)"/>
<path d="M172.6,2235.6 L178.4,2235.1 L185.4,2233.8 L188.2,2233.6 L205.0,2233.9 L270.2,2233.7 L322.2,2233.3 L360.6,2232.6 L381.8,2231.7 L427.0,2230.2 L456.1,2228.9 L485.7,2226.9 L512.7,2224.1 L530.6,2221.8 L546.8,2219.1 L562.4,2215.9 L569.0,2214.2 L574.0,2212.6 L579.1,2210.4 L595.7,2202.5 L598.1,2201.1 L599.7,2200.0 L601.8,2197.6 L605.3,2192.2 L609.3,2185.3 L612.8,2178.1 L614.3,2176.3 L615.9,2175.2 L617.0,2174.7 L618.0,2174.6 L619.1,2174.7 L620.2,2175.2 L621.4,2176.2 L622.4,2177.3 L625.4,2181.9 L626.1,2182.3 L626.7,2182.1 L627.3,2181.4 L627.7,2180.4 L629.0,2175.3 L630.0,2169.8 L630.8,2163.5 L632.2,2147.1 L634.0,2119.2 L636.1,2091.7 L637.1,2072.5 L639.2,2017.7 L640.7,1983.4 L644.7,1893.9 L647.4,1840.3 L648.2,1827.2 L649.1,1818.8 L650.2,1812.1 L650.6,1810.8 L651.2,1810.3 L651.7,1810.7 L652.0,1811.6 L652.9,1815.8 L654.0,1824.9 L654.9,1834.5 L657.4,1875.6 L662.5,1965.5 L668.2,2055.3 L670.5,2085.6 L672.0,2101.1 L673.4,2113.8 L675.6,2128.9 L678.0,2142.3 L681.0,2155.9 L683.7,2165.2 L686.7,2172.6 L690.8,2180.3 L695.5,2187.3 L700.1,2192.8 L704.0,2196.8 L707.9,2200.3 L711.6,2203.3 L715.2,2205.8 L718.7,2207.8 L723.4,2210.0 L728.3,2211.9 L733.6,2213.7 L739.7,2215.5 L746.3,2217.1 L762.4,2220.3 L777.8,2222.7 L810.3,2227.1 L822.6,2228.4 L838.6,2229.7 L856.2,2230.7 L876.5,2231.6 L923.3,2233.0 L1050.9,2236.1" fill="none" stroke="#d9272d" stroke-width="4.2" stroke-linejoin="round" clip-path="url(#clipPL)"/>
<path d="M172.6,2235.1 L177.9,2234.3 L185.0,2232.7 L187.7,2232.5 L204.5,2233.0 L246.1,2232.9 L316.5,2232.3 L362.1,2231.5 L425.7,2229.3 L457.2,2227.8 L484.8,2226.0 L510.6,2223.3 L532.0,2220.3 L553.2,2216.3 L561.4,2214.5 L568.0,2212.8 L573.4,2211.1 L577.0,2209.5 L595.7,2200.4 L598.1,2199.0 L600.0,2197.5 L602.2,2194.7 L605.6,2189.3 L609.4,2182.2 L613.0,2175.1 L614.5,2173.3 L616.4,2172.1 L618.3,2171.8 L619.3,2172.1 L620.3,2172.6 L621.5,2173.7 L622.5,2174.9 L625.3,2179.5 L626.2,2180.1 L626.8,2179.8 L627.7,2178.0 L629.0,2172.6 L630.0,2167.0 L630.8,2160.7 L632.3,2140.3 L634.1,2112.4 L636.2,2084.5 L637.2,2064.9 L639.3,2006.1 L640.8,1969.4 L644.9,1879.1 L647.4,1827.1 L648.2,1814.4 L649.0,1806.8 L650.2,1799.3 L650.7,1798.1 L651.3,1797.6 L651.7,1798.0 L652.1,1798.9 L652.9,1803.6 L654.1,1812.3 L654.9,1821.8 L657.4,1864.6 L662.1,1949.6 L668.3,2050.6 L670.6,2081.8 L672.1,2097.7 L673.5,2110.8 L675.7,2126.3 L678.0,2139.7 L681.0,2153.7 L683.6,2163.0 L686.5,2170.4 L690.7,2178.2 L695.4,2185.6 L700.0,2191.1 L704.1,2195.5 L707.9,2199.0 L711.6,2202.1 L714.9,2204.4 L718.3,2206.5 L722.6,2208.5 L727.5,2210.5 L732.4,2212.1 L738.9,2214.0 L745.5,2215.7 L761.6,2218.8 L775.8,2221.1 L813.0,2226.3 L824.6,2227.6 L841.3,2228.9 L857.7,2229.8 L877.7,2230.7 L928.5,2232.2 L1050.9,2235.1" fill="none" stroke="#6abd46" stroke-width="4.2" stroke-linejoin="round" clip-path="url(#clipPL)"/>
<rect x="172.00" y="1695.00" width="879.50" height="546.30" fill="none" stroke="#161616" stroke-width="2.2"/>
<text transform="translate(357.16,2298.40) scale(1.0,1.06)" font-size="42.2" text-anchor="middle" fill="#222222">0.5</text>
<text transform="translate(588.61,2298.40) scale(1.0,1.06)" font-size="42.2" text-anchor="middle" fill="#222222">1</text>
<text transform="translate(820.05,2298.40) scale(1.0,1.06)" font-size="42.2" text-anchor="middle" fill="#222222">1.5</text>
<text transform="translate(1051.50,2298.40) scale(1.0,1.06)" font-size="42.2" text-anchor="middle" fill="#222222">2</text>
<text transform="translate(157.00,2257.60) scale(1.0,1.06)" font-size="42.2" text-anchor="end" fill="#222222">0</text>
<text transform="translate(157.00,2121.03) scale(1.0,1.06)" font-size="42.2" text-anchor="end" fill="#222222">0.05</text>
<text transform="translate(157.00,1984.45) scale(1.0,1.06)" font-size="42.2" text-anchor="end" fill="#222222">0.1</text>
<text transform="translate(157.00,1847.88) scale(1.0,1.06)" font-size="42.2" text-anchor="end" fill="#222222">0.15</text>
<text transform="translate(157.00,1711.30) scale(1.0,1.06)" font-size="42.2" text-anchor="end" fill="#222222">0.2</text>
<path d="M357.16,2241.30 v-9.5 M357.16,1695.00 v9.5 M588.61,2241.30 v-9.5 M588.61,1695.00 v9.5 M820.05,2241.30 v-9.5 M820.05,1695.00 v9.5 M1051.50,2241.30 v-9.5 M1051.50,1695.00 v9.5 M172.00,2241.30 h9.5 M1051.50,2241.30 h-9.5 M172.00,2104.73 h9.5 M1051.50,2104.73 h-9.5 M172.00,1968.15 h9.5 M1051.50,1968.15 h-9.5 M172.00,1831.58 h9.5 M1051.50,1831.58 h-9.5 M172.00,1695.00 h9.5 M1051.50,1695.00 h-9.5" stroke="#161616" stroke-width="2.2" fill="none"/>
<text transform="translate(611.45,2366.70) scale(1.0,1.025)" font-size="52.66" text-anchor="middle" fill="#222222">Frequency (rad/s)</text>
<text transform="translate(52.20,1968.15) rotate(-90) scale(1.0,1.025)" font-size="52.66" text-anchor="middle" fill="#222222">Pitch (degree)</text>
<clipPath id="clipPR"><rect x="1327.60" y="1695.00" width="879.80" height="546.30"/></clipPath>
<path d="M1328.2,2240.0 L1338.4,2239.4 L1351.6,2239.1 L1442.0,2238.5 L1514.4,2237.6 L1605.5,2235.7 L1627.5,2235.0 L1642.7,2234.2 L1665.8,2232.1 L1713.1,2226.6 L1725.3,2224.5 L1750.0,2219.2 L1755.3,2217.6 L1757.1,2216.8 L1758.9,2215.8 L1760.7,2214.3 L1762.6,2212.3 L1766.5,2207.2 L1767.9,2205.8 L1770.2,2204.2 L1772.3,2203.4 L1773.9,2203.3 L1775.7,2203.8 L1777.8,2205.0 L1781.0,2207.6 L1781.9,2207.9 L1782.5,2207.7 L1783.3,2206.8 L1784.0,2205.4 L1786.0,2197.7 L1789.8,2172.8 L1791.0,2163.3 L1792.5,2145.8 L1797.2,2065.1 L1798.7,2044.3 L1800.5,2027.6 L1804.3,1997.9 L1805.6,1991.6 L1806.2,1990.3 L1806.8,1989.7 L1807.2,1989.7 L1807.7,1990.4 L1808.5,1992.9 L1809.5,1997.5 L1810.6,2003.9 L1812.0,2015.4 L1815.1,2046.8 L1819.0,2077.4 L1827.3,2135.6 L1833.3,2172.3 L1834.6,2178.6 L1836.1,2184.8 L1837.6,2189.3 L1839.0,2192.6 L1841.1,2196.0 L1843.9,2199.4 L1847.4,2202.8 L1851.4,2206.0 L1856.4,2209.3 L1864.8,2213.9 L1872.9,2217.5 L1879.7,2219.7 L1893.2,2223.4 L1901.5,2224.9 L1915.8,2226.8 L1929.3,2228.3 L1943.2,2229.5 L1979.2,2231.7 L1999.1,2232.6 L2015.5,2233.0 L2102.7,2234.5 L2206.8,2235.4" fill="none" stroke="#3a54a4" stroke-width="4.2" stroke-linejoin="round" clip-path="url(#clipPR)"/>
<path d="M1328.2,2240.8 L1336.4,2240.0 L1341.5,2239.8 L1519.9,2239.1 L1621.9,2237.7 L1653.5,2236.8 L1671.1,2235.9 L1703.4,2233.3 L1728.1,2230.9 L1743.2,2229.0 L1752.2,2227.4 L1758.8,2225.7 L1763.2,2223.7 L1769.3,2220.0 L1771.5,2219.1 L1773.0,2218.7 L1774.6,2218.8 L1776.1,2219.1 L1778.0,2219.7 L1781.1,2221.3 L1782.1,2221.6 L1782.7,2221.5 L1783.2,2221.2 L1783.9,2220.5 L1785.2,2217.2 L1786.7,2211.8 L1789.0,2202.1 L1791.4,2194.1 L1792.3,2190.2 L1793.6,2181.5 L1795.4,2166.4 L1798.4,2134.5 L1800.9,2112.7 L1802.2,2106.0 L1803.7,2101.0 L1804.5,2099.2 L1805.4,2097.9 L1806.1,2097.2 L1806.9,2097.0 L1807.8,2097.3 L1808.5,2098.0 L1810.1,2100.7 L1811.6,2104.9 L1813.1,2110.7 L1814.5,2119.8 L1819.2,2158.3 L1820.7,2168.6 L1822.5,2177.6 L1824.7,2187.8 L1826.2,2193.2 L1828.3,2199.2 L1829.7,2202.5 L1831.2,2204.8 L1835.6,2209.4 L1839.0,2213.4 L1840.7,2215.1 L1843.3,2217.0 L1846.4,2218.7 L1850.8,2220.7 L1856.0,2222.7 L1863.7,2225.0 L1872.2,2227.1 L1881.7,2228.7 L1892.4,2230.2 L1904.7,2231.3 L1941.4,2234.0 L1969.8,2235.6 L2004.6,2236.7 L2054.6,2237.5 L2105.3,2238.0 L2206.9,2238.5" fill="none" stroke="#d9272d" stroke-width="4.2" stroke-linejoin="round" clip-path="url(#clipPR)"/>
<path d="M1328.2,2240.8 L1336.4,2239.9 L1341.5,2239.7 L1519.9,2238.9 L1621.9,2237.5 L1653.5,2236.6 L1671.1,2235.6 L1703.8,2232.9 L1728.4,2230.4 L1743.5,2228.3 L1752.2,2226.7 L1758.7,2224.9 L1763.0,2222.9 L1769.4,2218.8 L1771.2,2218.0 L1772.7,2217.6 L1774.3,2217.5 L1776.2,2217.9 L1778.1,2218.7 L1781.1,2220.3 L1782.1,2220.6 L1782.7,2220.5 L1783.5,2220.0 L1784.1,2219.1 L1785.2,2215.7 L1786.7,2210.3 L1789.1,2199.8 L1791.5,2191.3 L1792.3,2187.4 L1793.6,2178.3 L1795.4,2162.4 L1798.4,2129.0 L1800.0,2113.5 L1801.0,2105.5 L1802.2,2098.8 L1803.6,2093.8 L1804.4,2092.0 L1805.4,2090.3 L1806.1,2089.6 L1806.9,2089.4 L1807.7,2089.7 L1808.5,2090.4 L1810.1,2093.5 L1811.7,2098.0 L1813.1,2103.9 L1814.5,2113.4 L1819.2,2153.9 L1820.8,2165.0 L1822.6,2174.8 L1824.8,2185.4 L1826.4,2191.2 L1828.4,2197.2 L1829.8,2200.5 L1831.2,2202.9 L1835.5,2207.6 L1839.0,2212.0 L1840.7,2213.7 L1843.2,2215.6 L1846.3,2217.5 L1850.7,2219.5 L1855.9,2221.6 L1863.5,2224.1 L1872.0,2226.3 L1881.4,2228.0 L1892.5,2229.6 L1904.8,2230.8 L1941.5,2233.6 L1969.5,2235.3 L2004.3,2236.5 L2053.9,2237.3 L2105.1,2237.8 L2206.8,2238.4" fill="none" stroke="#6abd46" stroke-width="4.2" stroke-linejoin="round" clip-path="url(#clipPR)"/>
<rect x="1327.60" y="1695.00" width="879.80" height="546.30" fill="none" stroke="#161616" stroke-width="2.2"/>
<text transform="translate(1512.82,2298.40) scale(1.0,1.06)" font-size="42.2" text-anchor="middle" fill="#222222">0.5</text>
<text transform="translate(1744.35,2298.40) scale(1.0,1.06)" font-size="42.2" text-anchor="middle" fill="#222222">1</text>
<text transform="translate(1975.87,2298.40) scale(1.0,1.06)" font-size="42.2" text-anchor="middle" fill="#222222">1.5</text>
<text transform="translate(2207.40,2298.40) scale(1.0,1.06)" font-size="42.2" text-anchor="middle" fill="#222222">2</text>
<text transform="translate(1312.60,2257.60) scale(1.0,1.06)" font-size="42.2" text-anchor="end" fill="#222222">0</text>
<text transform="translate(1312.60,2121.03) scale(1.0,1.06)" font-size="42.2" text-anchor="end" fill="#222222">0.05</text>
<text transform="translate(1312.60,1984.45) scale(1.0,1.06)" font-size="42.2" text-anchor="end" fill="#222222">0.1</text>
<text transform="translate(1312.60,1847.88) scale(1.0,1.06)" font-size="42.2" text-anchor="end" fill="#222222">0.15</text>
<text transform="translate(1312.60,1711.30) scale(1.0,1.06)" font-size="42.2" text-anchor="end" fill="#222222">0.2</text>
<path d="M1512.82,2241.30 v-9.5 M1512.82,1695.00 v9.5 M1744.35,2241.30 v-9.5 M1744.35,1695.00 v9.5 M1975.87,2241.30 v-9.5 M1975.87,1695.00 v9.5 M2207.40,2241.30 v-9.5 M2207.40,1695.00 v9.5 M1327.60,2241.30 h9.5 M2207.40,2241.30 h-9.5 M1327.60,2104.73 h9.5 M2207.40,2104.73 h-9.5 M1327.60,1968.15 h9.5 M2207.40,1968.15 h-9.5 M1327.60,1831.58 h9.5 M2207.40,1831.58 h-9.5 M1327.60,1695.00 h9.5 M2207.40,1695.00 h-9.5" stroke="#161616" stroke-width="2.2" fill="none"/>
<text transform="translate(1767.20,2366.70) scale(1.0,1.025)" font-size="52.66" text-anchor="middle" fill="#222222">Frequency (rad/s)</text>
<text transform="translate(1207.80,1968.15) rotate(-90) scale(1.0,1.025)" font-size="52.66" text-anchor="middle" fill="#222222">Pitch (degree)</text>
<rect x="1432.30" y="237.20" width="196.90" height="262.60" fill="#ffffff" stroke="none"/>
<clipPath id="iclipTR"><rect x="1432.30" y="237.20" width="196.90" height="262.60"/></clipPath>
<path d="M1494.5,536.3 L1497.8,507.8 L1501.0,481.2 L1504.2,456.3 L1507.5,433.3 L1510.8,412.2 L1514.0,392.8 L1517.2,375.4 L1520.2,360.8 L1523.5,346.9 L1526.8,334.8 L1530.0,324.5 L1533.0,316.7 L1536.2,309.9 L1538.0,307.1 L1539.5,305.1 L1541.2,303.2 L1542.8,302.0 L1544.2,301.2 L1545.8,300.8 L1547.5,300.8 L1549.5,301.3 L1551.5,302.2 L1553.5,303.6 L1555.2,305.2 L1557.2,307.5 L1559.2,310.2 L1561.2,313.4 L1565.0,320.7 L1569.0,330.2 L1573.0,341.6 L1577.0,354.8 L1580.8,368.9 L1584.8,385.7 L1588.8,404.4 L1592.8,424.9 L1596.5,445.8 L1600.5,469.9 L1604.5,495.9 L1608.5,523.6" fill="none" stroke="#3a54a4" stroke-width="3.8" clip-path="url(#iclipTR)"/>
<path d="M1508.9,519.4 L1515.9,487.9 L1521.4,464.7 L1526.4,445.6 L1530.9,430.8 L1533.2,424.5 L1535.2,419.5 L1537.2,415.1 L1539.2,411.5 L1541.2,408.6 L1543.2,406.5 L1545.2,405.1 L1547.2,404.6 L1549.4,404.9 L1551.7,405.9 L1553.9,407.7 L1556.2,410.2 L1558.4,413.4 L1560.9,417.8 L1563.4,423.0 L1565.9,429.0 L1568.4,435.6 L1571.2,443.6 L1576.7,461.5 L1582.9,484.1 L1590.7,514.1" fill="none" stroke="#d9272d" stroke-width="3.8" clip-path="url(#iclipTR)"/>
<path d="M1502.2,528.4 L1508.5,488.4 L1514.2,455.5 L1517.2,440.0 L1520.0,426.8 L1522.7,414.8 L1525.5,403.9 L1528.2,394.2 L1531.0,385.7 L1533.7,378.5 L1536.2,373.1 L1539.0,368.5 L1541.5,365.4 L1542.7,364.3 L1544.0,363.5 L1545.2,362.9 L1546.5,362.7 L1548.0,362.7 L1549.5,363.0 L1551.0,363.6 L1552.5,364.5 L1554.0,365.7 L1555.5,367.2 L1557.0,368.9 L1558.7,371.3 L1561.7,376.3 L1565.0,382.8 L1568.2,390.7 L1571.5,399.7 L1574.7,409.9 L1578.0,421.3 L1581.2,433.7 L1584.7,448.2 L1588.2,463.9 L1591.7,480.6 L1599.2,519.7" fill="none" stroke="#6abd46" stroke-width="3.8" clip-path="url(#iclipTR)"/>
<rect x="1432.30" y="237.20" width="196.90" height="262.60" fill="none" stroke="#161616" stroke-width="2"/>
<text transform="translate(1425.10,514.80) scale(1.0,1.025)" font-size="35.3" text-anchor="end" fill="#222222">0.11</text>
<text transform="translate(1425.10,449.15) scale(1.0,1.025)" font-size="35.3" text-anchor="end" fill="#222222">0.12</text>
<text transform="translate(1425.10,383.50) scale(1.0,1.025)" font-size="35.3" text-anchor="end" fill="#222222">0.13</text>
<text transform="translate(1425.10,317.85) scale(1.0,1.025)" font-size="35.3" text-anchor="end" fill="#222222">0.14</text>
<text transform="translate(1425.10,252.20) scale(1.0,1.025)" font-size="35.3" text-anchor="end" fill="#222222">0.15</text>
<path d="M1530.75,499.80 v-3.5 M1530.75,237.20 v3.5 M1432.30,434.15 h3.5 M1629.20,434.15 h-3.5 M1432.30,368.50 h3.5 M1629.20,368.50 h-3.5 M1432.30,302.85 h3.5 M1629.20,302.85 h-3.5" stroke="#161616" stroke-width="2" fill="none"/>
<text transform="translate(1432.30,543.80) scale(1.0,1.025)" font-size="35.3" text-anchor="middle" fill="#222222">1.1</text>
<text transform="translate(1530.75,543.80) scale(1.0,1.025)" font-size="35.3" text-anchor="middle" fill="#222222">1.13</text>
<text transform="translate(1629.20,543.80) scale(1.0,1.025)" font-size="35.3" text-anchor="middle" fill="#222222">1.16</text>
<line x1="1642.3" y1="290.0" x2="1743.0" y2="321.0" stroke="#000" stroke-width="3.6"/>
<polygon points="1774.9,329.6 1736.4,300.8 1743.0,321.0 1726.3,332.9" fill="#000"/>
<rect x="1458.80" y="1011.60" width="197.10" height="262.60" fill="#ffffff" stroke="none"/>
<clipPath id="iclipBR"><rect x="1458.80" y="1011.60" width="197.10" height="262.60"/></clipPath>
<path d="M1555.1,1304.7 L1557.3,1286.4 L1559.6,1266.0 L1566.3,1195.8 L1568.3,1177.1 L1569.6,1167.6 L1570.6,1161.8 L1571.3,1158.7 L1571.8,1157.2 L1572.3,1156.3 L1572.8,1156.0 L1573.3,1156.1 L1574.1,1157.2 L1575.3,1161.3 L1576.6,1167.9 L1577.8,1176.7 L1580.1,1196.2 L1587.3,1265.9 L1589.8,1287.0 L1592.3,1305.6" fill="none" stroke="#3a54a4" stroke-width="3.8" clip-path="url(#iclipBR)"/>
<path d="M1549.1,1330.1 L1558.1,1197.3 L1561.1,1157.8 L1563.6,1128.9 L1566.1,1105.1 L1567.3,1095.5 L1568.6,1087.5 L1569.8,1081.4 L1570.8,1077.8 L1572.1,1075.1 L1572.6,1074.6 L1573.1,1074.4 L1573.6,1074.5 L1574.1,1074.9 L1574.6,1075.5 L1575.3,1077.1 L1576.6,1081.0 L1577.8,1086.7 L1579.1,1094.1 L1580.3,1103.0 L1583.1,1127.4 L1585.8,1157.5 L1588.8,1195.1 L1598.3,1328.4" fill="none" stroke="#d9272d" stroke-width="3.8" clip-path="url(#iclipBR)"/>
<path d="M1552.2,1324.2 L1561.7,1195.0 L1564.0,1166.8 L1565.7,1147.2 L1567.7,1128.6 L1569.5,1116.4 L1570.5,1111.5 L1571.2,1108.8 L1572.2,1106.7 L1573.0,1106.2 L1573.7,1106.5 L1574.7,1108.4 L1575.7,1111.6 L1576.7,1116.3 L1578.7,1129.6 L1580.7,1147.4 L1582.5,1166.0 L1584.7,1192.6 L1595.0,1324.5" fill="none" stroke="#6abd46" stroke-width="3.8" clip-path="url(#iclipBR)"/>
<rect x="1458.80" y="1011.60" width="197.10" height="262.60" fill="none" stroke="#161616" stroke-width="2"/>
<text transform="translate(1451.60,1289.20) scale(1.0,1.025)" font-size="35.3" text-anchor="end" fill="#222222">0.081</text>
<text transform="translate(1451.60,1157.90) scale(1.0,1.025)" font-size="35.3" text-anchor="end" fill="#222222">0.083</text>
<text transform="translate(1451.60,1026.60) scale(1.0,1.025)" font-size="35.3" text-anchor="end" fill="#222222">0.085</text>
<path d="M1557.35,1274.20 v-3.5 M1557.35,1011.60 v3.5 M1458.80,1142.90 h3.5 M1655.90,1142.90 h-3.5" stroke="#161616" stroke-width="2" fill="none"/>
<text transform="translate(1458.80,1318.20) scale(1.0,1.025)" font-size="35.3" text-anchor="middle" fill="#222222">1.1</text>
<text transform="translate(1557.35,1318.20) scale(1.0,1.025)" font-size="35.3" text-anchor="middle" fill="#222222">1.13</text>
<text transform="translate(1655.90,1318.20) scale(1.0,1.025)" font-size="35.3" text-anchor="middle" fill="#222222">1.16</text>
<line x1="1669.2" y1="1077.7" x2="1743.5" y2="1047.7" stroke="#000" stroke-width="3.6"/>
<polygon points="1774.6,1038.1 1727.3,1038.1 1743.5,1047.7 1738.1,1069.2" fill="#000"/>
<rect x="216.5" y="2401.1" width="1932.7" height="84.5" fill="#ffffff" stroke="#161616" stroke-width="2.2"/>
<line x1="229.9" y1="2442.9" x2="360.8" y2="2442.9" stroke="#3a54a4" stroke-width="4.2"/>
<text transform="translate(370.60,2463.60) scale(1.0039,1.025)" font-size="52.3" text-anchor="start" fill="#000">Without microarray</text>
<line x1="837.9" y1="2442.9" x2="969.6" y2="2442.9" stroke="#d9272d" stroke-width="4.2"/>
<text transform="translate(978.30,2463.60) scale(1.0157,1.025)" font-size="52.3" text-anchor="start" fill="#000">Y-shaped microarray</text>
<line x1="1494.0" y1="2442.9" x2="1625.0" y2="2442.9" stroke="#6abd46" stroke-width="4.2"/>
<text transform="translate(1635.40,2463.60) scale(1.0059,1.025)" font-size="52.3" text-anchor="start" fill="#000">Triangular microarray</text>
</svg>
</body></html>
